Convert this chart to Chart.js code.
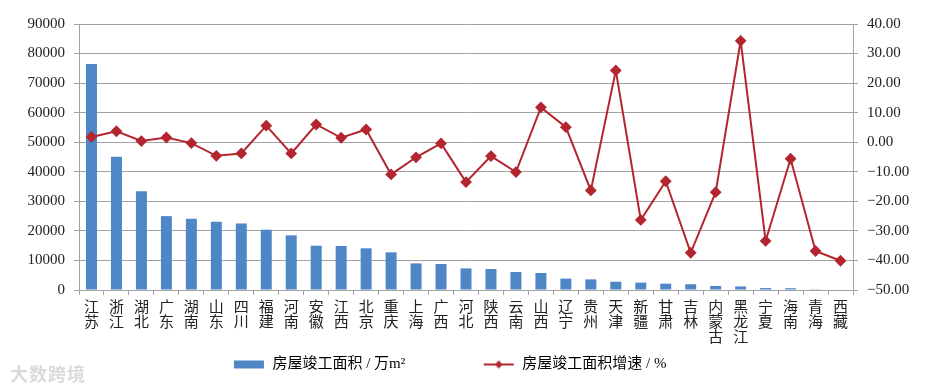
<!DOCTYPE html>
<html>
<head>
    <meta charset="utf-8">
    <title>房屋竣工面积</title>
    <script src="https://cdn.jsdelivr.net/npm/chart.js"></script>
</head>
<body style="margin:0; background-color:white;">
<div style="position:relative; width:933px; height:390px;">
    <canvas id="myChart" width="933" height="390"></canvas>
    <div style="position:absolute; left:10px; top:360px; font:bold 18px 'Noto Sans CJK SC'; color:rgba(150,150,150,0.35); letter-spacing:1px;">大数跨境</div>
</div>
<script>
    const provinces = ['江苏', '浙江', '湖北', '广东', '湖南', '山东', '四川', '福建', '河南', '安徽',
        '江西', '北京', '重庆', '上海', '广西', '河北', '陕西', '云南', '山西', '辽宁',
        '贵州', '天津', '新疆', '甘肃', '吉林', '内蒙古', '黑龙江', '宁夏', '海南', '青海', '西藏'];
    const area = [76500, 45100, 33400, 25000, 24100, 23100, 22500, 20400, 18500, 15000,
        14900, 14100, 12750, 9000, 8800, 7300, 7100, 6100, 5750, 3850,
        3600, 2800, 2500, 2150, 1950, 1350, 1200, 650, 600, 250, 150];
    const growth = [1.8, 3.7, 0.4, 1.6, -0.3, -4.6, -3.8, 5.6, -3.8, 6.0,
        1.5, 4.3, -10.9, -5.1, -0.4, -13.5, -4.7, -10.1, 11.8, 5.1,
        -16.3, 24.3, -26.3, -13.2, -37.4, -16.9, 34.3, -33.4, -5.6, -36.8, -40.1];
    const areaLabel = '房屋竣工面积 / 万m²';
    const growthLabel = '房屋竣工面积增速 / %';

    const blue = '#4f86c6';
    const red = '#b3262f';
    const gridGray = '#a3a3a3';
    const fontFamily = "'Liberation Serif', 'Noto Sans CJK SC', serif";

    function legendIcon(kind) {
        const c = document.createElement('canvas');
        c.width = 32; c.height = 10;
        const g = c.getContext('2d');
        if (kind === 'bar') {
            g.fillStyle = blue;
            g.fillRect(1, 1, 30, 8);
        } else {
            g.strokeStyle = red; g.lineWidth = 2;
            g.beginPath(); g.moveTo(1, 5); g.lineTo(31, 5); g.stroke();
            g.fillStyle = red;
            g.beginPath(); g.moveTo(16, 1); g.lineTo(20, 5); g.lineTo(16, 9); g.lineTo(12, 5); g.closePath(); g.fill();
        }
        return c;
    }

    // spaces only widen the gap between the two legend items and nudge them left
    const gap1 = ' '.repeat(18);
    const gap2 = ' '.repeat(9);

    const ctx = document.getElementById('myChart').getContext('2d');
    window.myChart = new Chart(ctx, {
        data: {
            labels: provinces.map(p => p.split('')),
            datasets: [{
                type: 'line',
                label: growthLabel,
                data: growth,
                yAxisID: 'y1',
                borderColor: red,
                backgroundColor: red,
                borderWidth: 2,
                pointStyle: 'rectRot',
                pointRadius: 4.5,
                tension: 0,
                order: 0
            }, {
                type: 'bar',
                label: areaLabel,
                data: area,
                yAxisID: 'y',
                backgroundColor: blue,
                barPercentage: 0.44,
                categoryPercentage: 1,
                order: 1
            }]
        },
        options: {
            responsive: false,
            animation: false,
            layout: { padding: { top: 24, bottom: 8 } },
            plugins: {
                tooltip: { enabled: false },
                legend: {
                    position: 'bottom',
                    labels: {
                        usePointStyle: true,
                        pointStyleWidth: 32,
                        padding: 10,
                        color: '#222',
                        font: { family: fontFamily, size: 15 },
                        generateLabels: function() {
                            return [
                                { text: areaLabel + gap1, pointStyle: legendIcon('bar'), fillStyle: blue, strokeStyle: blue, lineWidth: 0, datasetIndex: 1 },
                                { text: growthLabel + gap2, pointStyle: legendIcon('line'), fillStyle: red, strokeStyle: red, lineWidth: 0, datasetIndex: 0 }
                            ];
                        }
                    }
                }
            },
            scales: {
                x: {
                    offset: true,
                    grid: { display: true, drawOnChartArea: false, drawTicks: true, tickLength: 5, color: gridGray, offset: true },
                    border: { display: true, color: gridGray },
                    ticks: {
                        autoSkip: false, maxRotation: 0, padding: 6, color: '#222',
                        font: { family: fontFamily, size: 15, lineHeight: 1.0 }
                    },
                    afterFit: function(scale) { scale.height = 57; }
                },
                y: {
                    position: 'left',
                    min: 0, max: 90000,
                    grid: { color: gridGray, tickLength: 5 },
                    border: { display: true, color: gridGray },
                    ticks: {
                        stepSize: 10000, padding: 9, color: '#222',
                        font: { family: fontFamily, size: 15 },
                        callback: v => String(v)
                    },
                    afterFit: function(scale) { scale.width = 79; }
                },
                y1: {
                    position: 'right',
                    min: -50, max: 40,
                    grid: { drawOnChartArea: false, color: gridGray, tickLength: 5 },
                    border: { display: true, color: gridGray },
                    ticks: {
                        stepSize: 10, padding: 9, color: '#222',
                        font: { family: fontFamily, size: 15 },
                        callback: v => (v < 0 ? '−' + Math.abs(v).toFixed(2) : v.toFixed(2))
                    },
                    afterFit: function(scale) { scale.width = 80; }
                }
            }
        }
    });
</script>
</body>
</html>
